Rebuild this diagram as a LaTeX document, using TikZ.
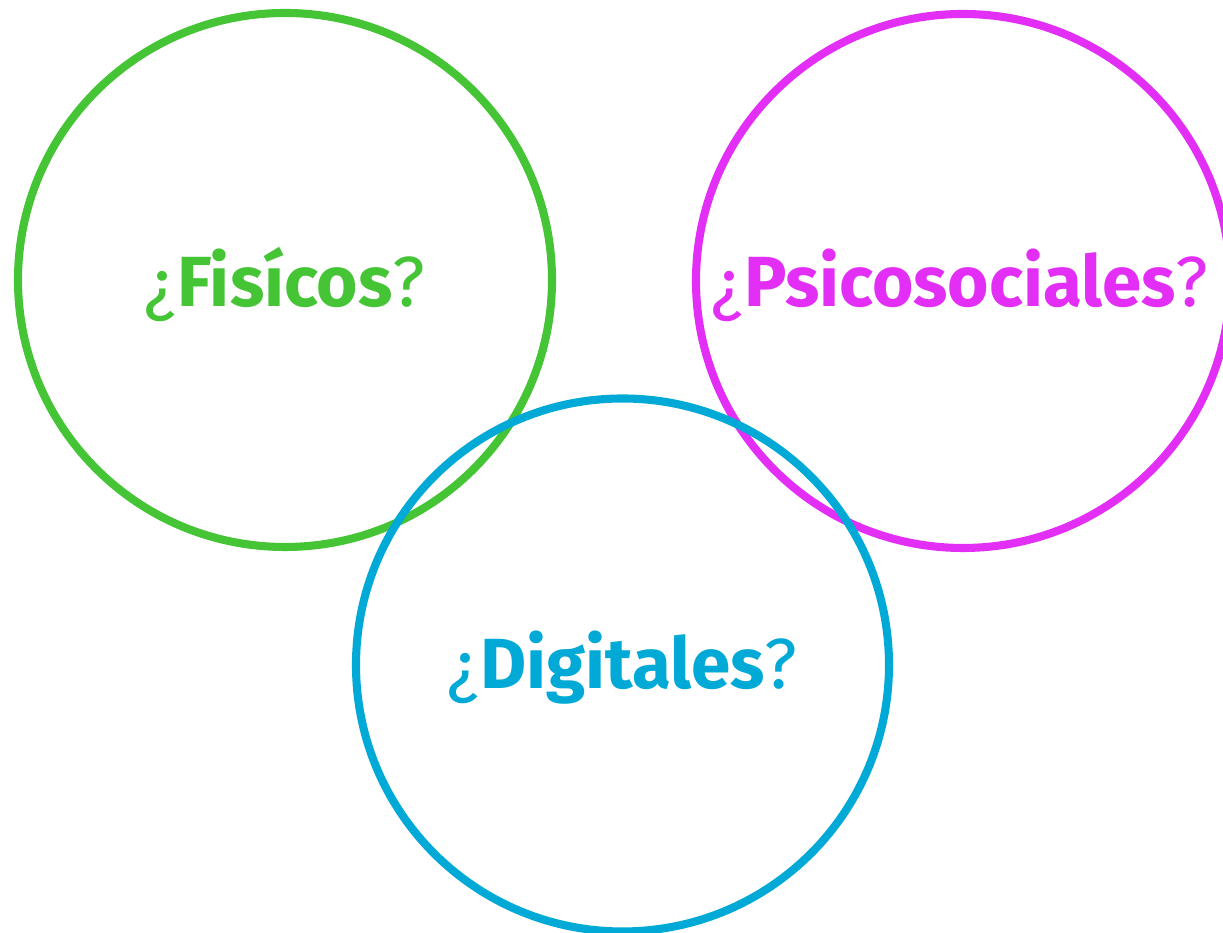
\documentclass[tikz,border=0pt]{standalone}
\usepackage{fontspec}
\setmainfont{Fira Sans}
\usepackage{tikz}
\usetikzlibrary{positioning}
\definecolor{fisgreen}{HTML}{45C435}
\definecolor{psicmagenta}{HTML}{E22EF5}
\definecolor{digblue}{HTML}{00A9D6}

\begin{document}
\begin{tikzpicture}
	\tikzstyle{ringnode}=[draw, circle, line width=2.3pt, minimum size=5.34cm, inner sep=0pt, fill=none]
	\tikzstyle{asknode}=[anchor=base, inner sep=0pt, font=\bfseries\fontsize{20.2}{23}\selectfont]
	
	\useasboundingbox (0,0) rectangle (12.23,9.33);
	
	\node (fisicos) at (2.85,6.53) [ringnode, draw=fisgreen] {};
	\node (psico) at (9.63,6.52) [ringnode, draw=psicmagenta] {};
	\node (digitales) at (6.225,2.68) [ringnode, draw=digblue, minimum size=5.33cm] {};
	
	\node (fisicosT) at (fisicos.center) [asknode, yshift=-0.27cm, text=fisgreen] {{\mdseries ¿}Fisícos{\mdseries ?}};
	\node (psicoT) at (psico.center) [asknode, yshift=-0.26cm, text=psicmagenta, xshift=-0.03cm] {{\mdseries ¿}Psicosociales{\mdseries ?}};
	\node (digitalesT) at (digitales.center) [asknode, yshift=-0.24cm, text=digblue] {{\mdseries ¿}Digitales{\mdseries ?}};
	
\end{tikzpicture}
\end{document}
